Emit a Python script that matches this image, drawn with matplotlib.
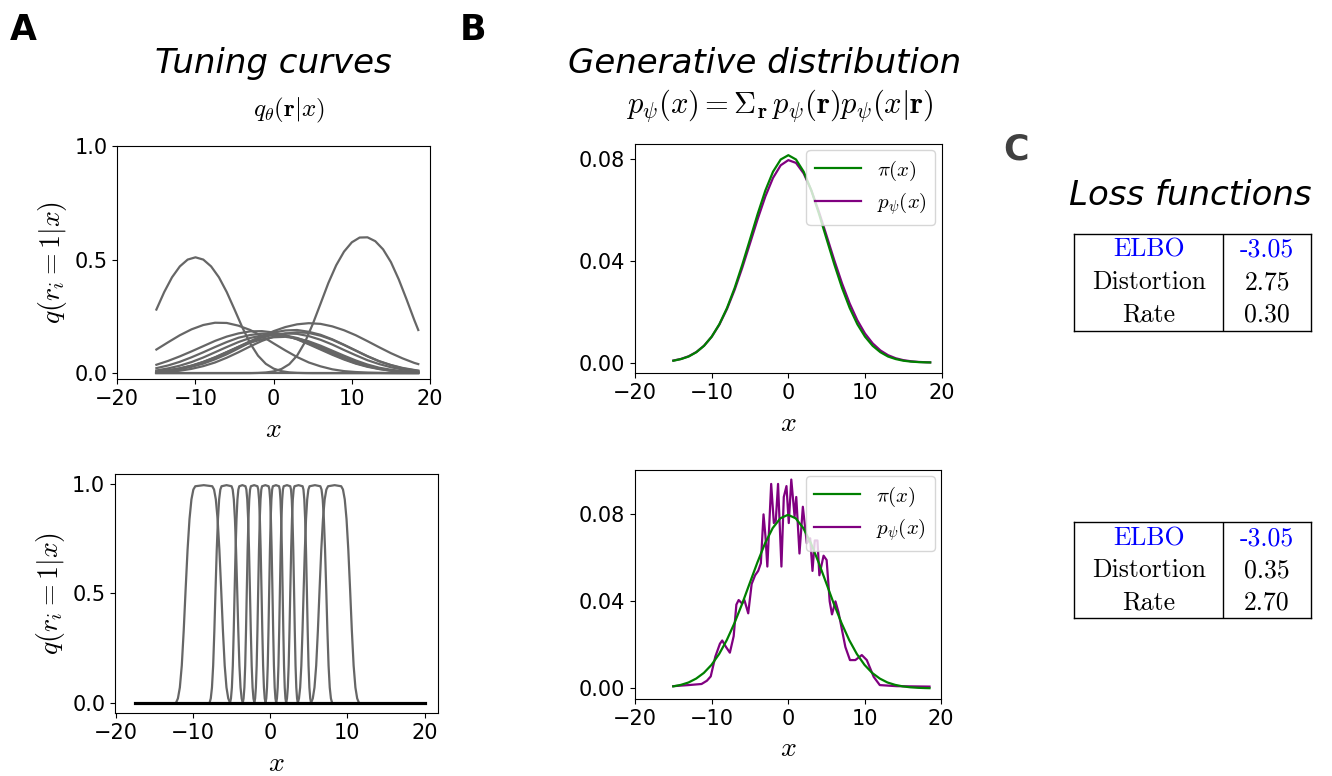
import numpy as np
import matplotlib
matplotlib.use("Agg")
import matplotlib.pyplot as plt

plt.rcParams['mathtext.fontset'] = 'cm'
plt.rcParams['font.family'] = 'DejaVu Sans'

# ---------------- data ----------------
# top-left: tuning curves q(r_i=1|x)
# the two sharp ones are read on a 1-unit grid, the broad ones on a 1.5-unit grid
x_fine = list(range(-15, 19)) + [18.5]
tc_left_big = [0.280, 0.357, 0.422, 0.470, 0.500, 0.510, 0.500, 0.470, 0.422, 0.357,
               0.280, 0.201, 0.131, 0.077, 0.041, 0.020, 0.0088, 0.0035, 0.0013, 0.0004,
               0, 0, 0, 0, 0, 0, 0, 0, 0, 0, 0, 0, 0, 0, 0]
tc_right_big = [0, 0, 0, 0, 0, 0, 0, 0, 0, 0, 0, 0, 0, 0.001, 0.003,
                0.0078, 0.0184, 0.0395, 0.0774, 0.136, 0.216, 0.306, 0.397, 0.475, 0.535,
                0.576, 0.597, 0.598, 0.581, 0.545, 0.489, 0.413, 0.325, 0.233, 0.190]

x_top = [-15, -13.5, -12, -10.5, -9, -7.5, -6, -4.5, -3, -1.5, 0, 1.5,
         3, 4.5, 6, 7.5, 9, 10.5, 12, 13.5, 15, 16.5, 18, 18.5]
tc_left_wide = [0.104, 0.136, 0.167, 0.193, 0.212, 0.222, 0.221, 0.209, 0.190, 0.163, 0.131, 0.100,
                0.071, 0.047, 0.030, 0.017, 0.009, 0.005, 0.0025, 0.0012, 0.0005, 0.0002, 0.0001, 0.0001]
tc_right_wide = [0.006, 0.010, 0.018, 0.028, 0.042, 0.061, 0.083, 0.109, 0.136, 0.162, 0.185, 0.203,
                 0.215, 0.220, 0.217, 0.206, 0.189, 0.167, 0.141, 0.114, 0.088, 0.065, 0.045, 0.040]
tc_mid_1 = [0.037, 0.054, 0.074, 0.096, 0.119, 0.142, 0.161, 0.175, 0.184, 0.185, 0.179, 0.166,
            0.149, 0.127, 0.104, 0.081, 0.060, 0.042, 0.028, 0.018, 0.011, 0.006, 0.0034, 0.0027]
tc_mid_2 = [0.022, 0.034, 0.050, 0.070, 0.092, 0.115, 0.137, 0.156, 0.168, 0.174, 0.174, 0.165,
            0.150, 0.130, 0.108, 0.085, 0.063, 0.044, 0.030, 0.019, 0.011, 0.006, 0.0033, 0.0027]
tc_mid_3 = [0.012, 0.021, 0.033, 0.049, 0.069, 0.092, 0.115, 0.137, 0.155, 0.166, 0.170, 0.166,
            0.155, 0.137, 0.115, 0.092, 0.069, 0.049, 0.033, 0.021, 0.012, 0.0068, 0.0036, 0.0028]
tc_mid_4 = [0.0068, 0.012, 0.021, 0.033, 0.049, 0.069, 0.092, 0.114, 0.134, 0.149, 0.158, 0.160,
            0.153, 0.140, 0.121, 0.099, 0.077, 0.056, 0.038, 0.024, 0.015, 0.0083, 0.0044, 0.0036]
tc_mid_5 = [0.0071, 0.0126, 0.021, 0.033, 0.050, 0.070, 0.093, 0.116, 0.138, 0.157, 0.169, 0.175,
            0.173, 0.163, 0.147, 0.126, 0.102, 0.079, 0.057, 0.040, 0.026, 0.016, 0.009, 0.0074]
tc_mid_6 = [0.0063, 0.011, 0.019, 0.031, 0.047, 0.067, 0.091, 0.116, 0.141, 0.163, 0.179, 0.188,
            0.190, 0.182, 0.169, 0.149, 0.125, 0.100, 0.075, 0.053, 0.036, 0.023, 0.014, 0.011]
tc_mid_7 = [0.003, 0.0058, 0.0108, 0.019, 0.031, 0.047, 0.068, 0.092, 0.118, 0.142, 0.161, 0.174,
            0.180, 0.177, 0.165, 0.147, 0.124, 0.099, 0.074, 0.052, 0.035, 0.021, 0.0126, 0.0104]
tc_silent = [0.0] * len(x_top)
tuning_broad = [tc_left_wide, tc_right_wide, tc_mid_1, tc_mid_2, tc_mid_3, tc_mid_4,
                tc_mid_5, tc_mid_6, tc_mid_7, tc_silent]

# bottom-left: plateau-shaped tuning curves, read as foot / shoulder positions
x_bot_range = [-17.5, 20]
bump_foot_left = [-12.2, -7.85, -5.2, -3.55, -2.05, -0.6, 0.78, 2.07, 3.58, 5.3]
bump_top_left = [-9.7, -6.3, -4.0, -2.5, -1.05, 0.35, 1.75, 3.15, 5.1, 7.5]
bump_top_right = [-7.5, -5.0, -3.2, -1.65, -0.2, 1.15, 2.6, 4.2, 6.5, 9.2]
bump_foot_right = [-5.2, -3.55, -2.05, -0.6, 0.78, 2.07, 3.58, 5.3, 8.02, 11.5]
edge_frac = [0, 0.1, 0.2, 0.3, 0.4, 0.5, 0.6, 0.7, 0.8, 0.9, 1.0]
edge_level = [0, 0.02, 0.07, 0.17, 0.33, 0.52, 0.70, 0.84, 0.93, 0.975, 0.99]
plateau_level = 0.995
n_silent_bottom = 3

# middle: prior pi(x) and generative marginal p_psi(x)
x_gen = list(range(-15, 19)) + [18.5]
pi_top = [0.00075, 0.0014, 0.0024, 0.0041, 0.0066, 0.0102, 0.0151, 0.0215, 0.0294, 0.0386,
          0.0485, 0.0585, 0.0677, 0.0751, 0.0799, 0.0816, 0.0799, 0.0751, 0.0677, 0.0585,
          0.0485, 0.0386, 0.0294, 0.0215, 0.0151, 0.0102, 0.0066, 0.0041, 0.0024, 0.0014,
          0.00075, 0.0004, 0.0002, 0.0001, 0.00007]
p_top = [0.00081, 0.00145, 0.00251, 0.00416, 0.00664, 0.01016, 0.01494, 0.02112, 0.02868, 0.03742,
         0.04691, 0.0565, 0.06535, 0.07266, 0.07762, 0.07966, 0.07856, 0.07442, 0.06775, 0.05925,
         0.04979, 0.04019, 0.03118, 0.02325, 0.01665, 0.01145, 0.00757, 0.00481, 0.00293, 0.00172,
         0.00097, 0.00053, 0.00027, 0.00014, 0.0001]
pi_bot = [0.0009, 0.0016, 0.0027, 0.0045, 0.0071, 0.0108, 0.0158, 0.0222, 0.0300, 0.0388,
          0.0484, 0.0579, 0.0667, 0.0737, 0.0782, 0.0798, 0.0782, 0.0737, 0.0667, 0.0579,
          0.0484, 0.0388, 0.0300, 0.0222, 0.0158, 0.0108, 0.0071, 0.0045, 0.0027, 0.0016,
          0.0009, 0.00048, 0.00025, 0.00012, 0.00008]
x_p_bot = [-15, -13, -11.3, -10.6, -10.1, -9.5, -8.9, -8.6, -8.1, -7.6, -7.1, -6.75, -6.45, -6.0,
           -5.7, -5.2, -4.75, -4.3, -3.9, -3.55, -3.2, -2.95, -2.7, -2.2, -1.85, -1.6, -1.3, -0.86,
           -0.55, -0.2, 0.1, 0.43, 0.86, 1.08, 1.5, 1.94, 2.46, 2.9, 3.2, 3.5, 3.85, 4.1, 4.65,
           5.05, 5.45, 5.75, 6.2, 6.6, 7.5, 8.1, 8.8, 9.65, 10.3, 11.2, 12.0, 14.2, 18.5]
p_bot = [0.0010, 0.0015, 0.0020, 0.0035, 0.0055, 0.0146, 0.0205, 0.0220, 0.0190, 0.0164, 0.0240,
         0.0385, 0.0406, 0.0390, 0.0406, 0.0345, 0.0480, 0.0520, 0.0540, 0.0575, 0.0800, 0.0700,
         0.0560, 0.0940, 0.0760, 0.0770, 0.0940, 0.0560, 0.0880, 0.0930, 0.0760, 0.0960, 0.0790,
         0.0880, 0.0620, 0.0835, 0.0667, 0.0690, 0.0540, 0.0680, 0.0680, 0.0520, 0.0610, 0.0590,
         0.0400, 0.0340, 0.0400, 0.0350, 0.0190, 0.0130, 0.0130, 0.0153, 0.0130, 0.0053, 0.0015,
         0.0010, 0.0008]

# C: loss tables
loss_names = ['ELBO', 'Distortion', 'Rate']
loss_top = ['-3.05', '2.75', '0.30']
loss_bot = ['-3.05', '0.35', '2.70']

# ---------------- figure ----------------
W, H = 1332, 776
fig = plt.figure(figsize=(W / 100, H / 100), dpi=100)


def box(l, t, r, b):
    return [l / W, 1 - b / H, (r - l) / W, (b - t) / H]


TICK = 15
LAB = 20
GREY = '#666666'

# A top
ax1 = fig.add_axes(box(117.3, 146, 430, 379.3))
for curve in tuning_broad:
    ax1.plot(x_top, curve, color=GREY, lw=1.6)
ax1.plot(x_fine, tc_left_big, color=GREY, lw=1.6)
ax1.plot(x_fine, tc_right_big, color=GREY, lw=1.6)
ax1.set_xlim(-20, 20)
ax1.set_ylim(-0.027, 1.0)
ax1.set_yticks([0, 0.5, 1.0])
ax1.set_xticks([-20, -10, 0, 10, 20])
ax1.set_xlabel('$x$', fontsize=LAB)
ax1.set_ylabel('$q(r_i=1|x)$', fontsize=LAB)

# A bottom
ax2 = fig.add_axes(box(115, 474, 437.7, 713.3))
ef = np.array(edge_frac)
el = np.array(edge_level)
for fl, tl, tr, fr in zip(bump_foot_left, bump_top_left, bump_top_right, bump_foot_right):
    xs = np.concatenate([fl + ef * (tl - fl), [(tl + tr) / 2], (fr - ef * (fr - tr))[::-1]])
    ys = np.concatenate([el, [plateau_level], el[::-1]])
    ax2.plot(xs, ys, color=GREY, lw=1.6)
for _ in range(n_silent_bottom):
    ax2.plot(x_bot_range, [0, 0], color='k', lw=2.2)
ax2.set_xlim(-20.1, 21.7)
ax2.set_ylim(-0.048, 1.046)
ax2.set_yticks([0, 0.5, 1.0])
ax2.set_xticks([-20, -10, 0, 10, 20])
ax2.set_xlabel('$x$', fontsize=LAB)
ax2.set_ylabel('$q(r_i=1|x)$', fontsize=LAB)

# B top
ax3 = fig.add_axes(box(635, 144, 941.7, 373.3))
ax3.plot(x_gen, pi_top, color='green', lw=1.6, label=r'$\pi(x)$', zorder=3)
ax3.plot(x_gen, p_top, color='purple', lw=1.6, label=r'$p_\psi(x)$', zorder=2)
ax3.set_xlim(-20, 20)
ax3.set_ylim(-0.0042, 0.086)

# B bottom
ax4 = fig.add_axes(box(635, 470, 941, 699))
ax4.plot(x_gen, pi_bot, color='green', lw=1.6, label=r'$\pi(x)$', zorder=3)
ax4.plot(x_p_bot, p_bot, color='purple', lw=1.6, label=r'$p_\psi(x)$', zorder=2)
ax4.set_xlim(-20, 20)
ax4.set_ylim(-0.0049, 0.1004)

for ax in (ax3, ax4):
    ax.set_yticks([0, 0.04, 0.08])
    ax.set_yticklabels(['0.00', '0.04', '0.08'])
    ax.set_xticks([-20, -10, 0, 10, 20])
    ax.set_xlabel('$x$', fontsize=LAB)
    ax.legend(loc='upper right', fontsize=15, borderaxespad=0.3,
              labelspacing=0.35, handlelength=2.2)

for ax in (ax1, ax2, ax3, ax4):
    ax.tick_params(labelsize=TICK)

# C tables
for (t, b), values in zip([(234, 330.7), (522.3, 618.3)], [loss_top, loss_bot]):
    axt = fig.add_axes(box(1074, t, 1310.7, b))
    axt.set_xlim(0, 1)
    axt.set_ylim(0, 1)
    axt.set_xticks([])
    axt.set_yticks([])
    for s in axt.spines.values():
        s.set_linewidth(1.0)
    axt.axvline(0.631, color='k', lw=1.0)
    for i, (name, val) in enumerate(zip(loss_names, values)):
        yy = 1 - (i + 0.5) / 3
        col = 'blue' if name == 'ELBO' else 'black'
        axt.text(0.3155, yy, name, ha='center', va='center', fontsize=18.5,
                 family='cmr10', color=col)
        axt.text(0.8155, yy, val, ha='center', va='center', fontsize=18.5,
                 family='cmr10', color=col)

# titles and panel letters
fig.text(10 / W, 1 - 13 / H, 'A', fontsize=25, fontweight='bold', ha='left', va='top')
fig.text(460 / W, 1 - 13 / H, 'B', fontsize=25, fontweight='bold', ha='left', va='top')
fig.text(1003 / W, 1 - 132 / H, 'C', fontsize=25, fontweight='bold', ha='left', va='top', color='#404040')

fig.text(273 / W, 1 - 73 / H, 'Tuning curves', fontsize=24.5, style='italic', ha='center', va='baseline')
fig.text(765 / W, 1 - 73 / H, 'Generative distribution', fontsize=24.5, style='italic', ha='center', va='baseline')
fig.text(1190 / W, 1 - 205 / H, 'Loss functions', fontsize=24.5, style='italic', ha='center', va='baseline')

fig.text(289 / W, 1 - 110 / H, r'$q_\theta(\mathbf{r}|x)$', fontsize=18, ha='center', va='center')
fig.text(780 / W, 1 - 106 / H, r'$p_\psi(x) = \Sigma_{\mathbf{r}}\, p_\psi(\mathbf{r}) p_\psi(x|\mathbf{r})$',
         fontsize=22, ha='center', va='center')

fig.savefig('out.png', dpi=100)
